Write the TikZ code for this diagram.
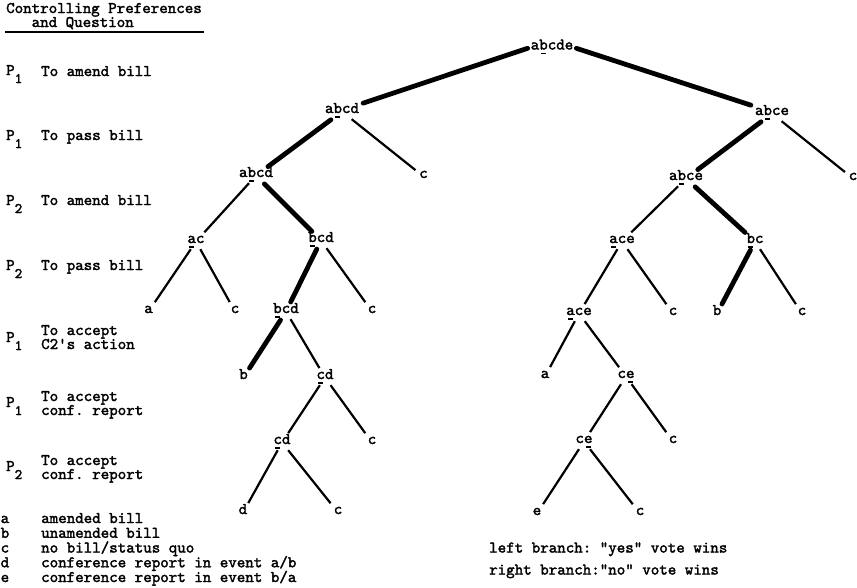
\documentclass[tikz,border=0pt]{standalone}
\usepackage{fontspec}
\setmonofont{lmmono10-regular.otf}[RawFeature={embolden=2}]
% short bar under the chosen outcome of a set
\newcommand\sel[1]{\rlap{\hbox to 0.525em{\hss\rule[-4.6pt]{5pt}{1.3pt}\hss}}#1}
% preference subscript, set below the P
\newcommand\sub[1]{\raisebox{-8pt}{\fontsize{14.5}{16}\selectfont #1}}
% two typed lines, the box sitting on the first baseline
\newcommand\twolines[2]{\vtop{\baselineskip=14pt\hbox{#1}\hbox{#2}}}
\tikzset{
  every node/.style={font=\ttfamily\fontsize{16.2}{19}\selectfont},
  txt/.style={anchor=base west, inner sep=0pt},
  lab/.style={anchor=base, inner xsep=2pt, inner ysep=2pt, text height=7pt, text depth=4pt},
  lose/.style={line width=2.2pt, shorten >=2pt},
  win/.style={line width=4.8pt, line cap=round, shorten >=2pt, shorten <=1pt},
}
\begin{document}
\begin{tikzpicture}[x=1pt,y=-1pt]
\useasboundingbox (0,0) rectangle (857,587);

% ---- header of the left column
\node[txt] (h) at (6,13) {\twolines{Controlling Preferences}{\hskip25.5pt and Question}};
\coordinate (u1) at (5,32);
\coordinate (u2) at (204,32);
\draw[line width=1.2pt] (u1) -- (u2);

% ---- controlling preference and question at each level
\node[txt] (p1) at (6,75) {P\sub{1}};
\node[txt] (q1) at (41,76) {To amend bill};
\node[txt] (p2) at (6,140) {P\sub{1}};
\node[txt] (q2) at (41,140) {To pass bill};
\node[txt] (p3) at (6,205) {P\sub{2}};
\node[txt] (q3) at (41,205) {To amend bill};
\node[txt] (p4) at (6,270) {P\sub{2}};
\node[txt] (q4) at (41,270) {To pass bill};
\node[txt] (p5) at (6,342) {P\sub{1}};
\node[txt] (q5) at (41,335) {\twolines{To accept}{C2's action}};
\node[txt] (p6) at (6,407) {P\sub{1}};
\node[txt] (q6) at (41,401) {\twolines{To accept}{conf. report}};
\node[txt] (p7) at (6,471) {P\sub{2}};
\node[txt] (q7) at (41,465) {\twolines{To accept}{conf. report}};

% ---- legend of outcomes
\node[txt] (ka) at (0.5,523) {a};
\node[txt] (kta) at (41,523) {amended bill};
\node[txt] (kb) at (0.5,537.75) {b};
\node[txt] (ktb) at (41,537.75) {unamended bill};
\node[txt] (kc) at (0.5,552.5) {c};
\node[txt] (ktc) at (41,552.5) {no bill/status quo};
\node[txt] (kd) at (0.5,567.25) {d};
\node[txt] (ktd) at (41,567.25) {conference report in event a/b};
\node[txt] (ke) at (0.5,582) {e};
\node[txt] (kte) at (41,582) {conference report in event b/a};

\node[txt] (n1) at (489,552.5) {left branch: "yes" vote wins};
\node[txt] (n2) at (489,574.5) {right branch:"no" vote wins};

% ---- the voting tree
\node[lab] (r)   at (552,49.5) {a\sel{b}cde};
\node[lab] (L1)  at (342,113) {a\sel{b}cd};
\node[lab] (R1)  at (772,115) {a\sel{b}ce};
\node[lab] (L2)  at (256,177) {a\sel{b}cd};
\node[lab] (L2c) at (423.5,178) {c};
\node[lab] (R2)  at (686,180) {a\sel{b}ce};
\node[lab] (R2c) at (853,180) {c};
\node[lab] (L3a) at (196,243) {\sel{a}c};
\node[lab] (L3b) at (321,242) {\sel{b}cd};
\node[lab] (R3a) at (622,243) {\sel{a}ce};
\node[lab] (R3b) at (755,243) {\sel{b}c};
\node[lab] (L4a) at (148.5,313) {a};
\node[lab] (L4c) at (235,313) {c};
\node[lab] (L4b) at (286,313) {\sel{b}cd};
\node[lab] (L4d) at (372,313) {c};
\node[lab] (R4a) at (579,315) {\sel{a}ce};
\node[lab] (R4c) at (673,315) {c};
\node[lab] (R4b) at (717,315) {b};
\node[lab] (R4d) at (802,315) {c};
\node[lab] (L5b) at (243.5,379) {b};
\node[lab] (L5c) at (325,379) {\sel{c}d};
\node[lab] (R5a) at (545,378) {a};
\node[lab] (R5c) at (626,378) {c\sel{e}};
\node[lab] (L6a) at (282,444) {\sel{c}d};
\node[lab] (L6c) at (372,444) {c};
\node[lab] (R6a) at (584,443) {c\sel{e}};
\node[lab] (R6c) at (673,443) {c};
\node[lab] (L7d) at (243,514) {d};
\node[lab] (L7c) at (338,514) {c};
\node[lab] (R7e) at (537,515) {e};
\node[lab] (R7c) at (640,515) {c};

% winning path (heavy) and other branches
\draw[win] (r.west) -- (L1.north east);
\draw[win] (r.east) -- (R1.north west);
\draw[win] (L1) -- (L2);
\draw[lose] (L1) -- (L2c);
\draw[win] (R1) -- (R2);
\draw[lose] (R1) -- (R2c);
\draw[lose] (L2) -- (L3a);
\draw[win] (L2) -- (L3b);
\draw[lose] (R2) -- (R3a);
\draw[win] (R2) -- (R3b);
\draw[lose] (L3a) -- (L4a);
\draw[lose] (L3a) -- (L4c);
\draw[win] (L3b) -- (L4b);
\draw[lose] (L3b) -- (L4d);
\draw[lose] (R3a) -- (R4a);
\draw[lose] (R3a) -- (R4c);
\draw[win] (R3b) -- (R4b);
\draw[lose] (R3b) -- (R4d);
\draw[win] (L4b) -- (L5b);
\draw[lose] (L4b) -- (L5c);
\draw[lose] (R4a) -- (R5a);
\draw[lose] (R4a) -- (R5c);
\draw[lose] (L5c) -- (L6a);
\draw[lose] (L5c) -- (L6c);
\draw[lose] (R5c) -- (R6a);
\draw[lose] (R5c) -- (R6c);
\draw[lose] (L6a) -- (L7d);
\draw[lose] (L6a) -- (L7c);
\draw[lose] (R6a) -- (R7e);
\draw[lose] (R6a) -- (R7c);
\end{tikzpicture}
\end{document}
